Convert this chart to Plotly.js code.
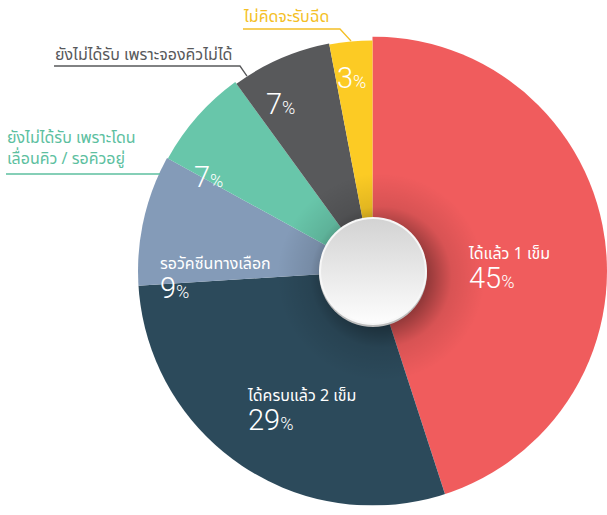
<!DOCTYPE html>
<html>
<head>
<meta charset="utf-8">
<script src="https://cdn.plot.ly/plotly-3.0.1.min.js"></script>
<style>html,body{margin:0;padding:0;background:#fff;overflow:hidden}#chart{width:607px;height:515px}</style>
</head>
<body>
<div id="chart"></div>
<script>
// ---- data ----
const categories = ['ได้แล้ว 1 เข็ม', 'ได้ครบแล้ว 2 เข็ม', 'รอวัคซีนทางเลือก', 'ยังไม่ได้รับ เพราะโดน<br>เลื่อนคิว / รอคิวอยู่', 'ยังไม่ได้รับ เพราะจองคิวไม่ได้', 'ไม่คิดจะรับฉีด'];
const values = [45, 29, 9, 7, 7, 3];

// ---- style ----
const sliceColors = ['#F05C5D', '#2C4A5B', '#849BB8', '#68C6AA', '#58595B', '#FCCB24'];
const nameColors = ['#FFFFFF', '#FFFFFF', '#FFFFFF', '#5DBF9F', '#58595B', '#F4BF26'];
const outerRadius = [244, 246, 236, 234, 232, 231];
const W = 607, H = 515;
const CX = 373, CY = 271, R = 235;
// label placement (px). inside: name + pct stacked; outside: separate
const insideAnchor = {0: [467, 268], 1: [246, 410], 2: [159, 278]};
const nameAnchor = {3: [6, 148], 4: [54, 54], 5: [242, 16]};
const pctAnchor = {3: [193, 177], 4: [265, 104], 5: [336, 78]};
const THAI = 'Noto Sans Thai UI, Noto Sans Thai, Sarabun, Kanit, Noto Sans, DejaVu Sans, sans-serif';
const NUM = 'Roboto, Lato, Open Sans, sans-serif';

const total = values.reduce((a, b) => a + b, 0);
let cum = 0;
const theta = [], width = [];
values.forEach(v => {
  const w = v / total * 360;
  theta.push(cum + w / 2);
  width.push(w);
  cum += w;
});

const trace = {
  type: 'barpolar',
  r: outerRadius,
  theta: theta,
  width: width,
  marker: {color: sliceColors, line: {width: 0}},
  hoverinfo: 'skip',
  showlegend: false
};

const px = (x, y) => ({x: x / W, y: 1 - y / H});
const pctText = v => `<span style="font-family:${NUM};font-weight:300;font-size:29px">${v}</span><span style="font-family:${NUM};font-weight:300;font-size:18px">%</span>`;

const annotations = [];
values.forEach((v, i) => {
  if (insideAnchor[i]) {
    const a = px(insideAnchor[i][0], insideAnchor[i][1]);
    annotations.push({
      xref: 'paper', yref: 'paper', x: a.x, y: a.y, xanchor: 'left', yanchor: 'middle',
      showarrow: false, borderpad: 0, align: 'left',
      text: `<span style="font-size:16px">${categories[i]}</span><br>` + pctText(v),
      font: {family: THAI, size: 22, color: '#FFFFFF'}
    });
  } else {
    const pa = px(pctAnchor[i][0], pctAnchor[i][1]);
    annotations.push({
      xref: 'paper', yref: 'paper', x: pa.x, y: pa.y, xanchor: 'left', yanchor: 'middle',
      showarrow: false, borderpad: 0,
      text: pctText(v),
      font: {family: NUM, size: 29, color: '#FFFFFF'}
    });
    const na = px(nameAnchor[i][0], nameAnchor[i][1]);
    annotations.push({
      xref: 'paper', yref: 'paper', x: na.x, y: na.y, xanchor: 'left', yanchor: 'middle',
      showarrow: false, borderpad: 0, align: 'left',
      text: categories[i],
      font: {family: THAI, size: 16, color: nameColors[i]}
    });
  }
});

function pathPx(pts) {
  return pts.map((p, k) => (k ? 'L' : 'M') + (p[0] / W).toFixed(4) + ',' + (1 - p[1] / H).toFixed(4)).join(' ');
}
const shapes = [
  {type: 'path', xref: 'paper', yref: 'paper', path: pathPx([[243, 29], [340, 29], [351, 41]]), line: {color: '#F4BF26', width: 1.3}},
  {type: 'path', xref: 'paper', yref: 'paper', path: pathPx([[54, 66], [240, 66], [247, 76]]), line: {color: '#58595B', width: 1.3}},
  {type: 'path', xref: 'paper', yref: 'paper', path: pathPx([[6, 174], [160, 174]]), line: {color: '#5DBF9F', width: 1.3}}
];

const svg = `<svg xmlns="http://www.w3.org/2000/svg" width="240" height="240" viewBox="0 0 240 240">
<defs>
<radialGradient id="sh" cx="128" cy="126" r="104" gradientUnits="userSpaceOnUse">
<stop offset="0.45" stop-color="#000" stop-opacity="0.38"/>
<stop offset="0.68" stop-color="#000" stop-opacity="0.1"/>
<stop offset="1" stop-color="#000" stop-opacity="0"/>
</radialGradient>
<linearGradient id="g" x1="0" y1="0" x2="0" y2="1">
<stop offset="0" stop-color="#d3d3d3"/>
<stop offset="1" stop-color="#fdfdfd"/>
</linearGradient>
</defs>
<circle cx="128" cy="126" r="104" fill="url(#sh)"/>
<circle cx="120" cy="122" r="54" fill="#bdbdbd"/>
<circle cx="120" cy="120" r="54" fill="#f7f7f7"/>
<circle cx="120" cy="120" r="52" fill="url(#g)"/>
</svg>`;
const img = 'data:image/svg+xml;base64,' + btoa(svg);

const layout = {
  width: W, height: H,
  margin: {l: 0, r: 0, t: 0, b: 0},
  paper_bgcolor: '#FFFFFF',
  showlegend: false,
  polar: {
    domain: {x: [(CX - R) / W, (CX + R) / W], y: [(H - CY - R) / H, (H - CY + R) / H]},
    bgcolor: 'rgba(0,0,0,0)',
    angularaxis: {direction: 'clockwise', rotation: 90, visible: false, showgrid: false, showline: false, ticks: ''},
    radialaxis: {range: [0, R], visible: false, showgrid: false, showline: false}
  },
  annotations: annotations,
  shapes: shapes,
  images: [{
    source: img, xref: 'paper', yref: 'paper',
    x: (CX - 120) / W, y: 1 - (CY - 120) / H, sizex: 240 / W, sizey: 240 / H,
    xanchor: 'left', yanchor: 'top', sizing: 'stretch', layer: 'above'
  }]
};

Plotly.newPlot('chart', [trace], layout, {displayModeBar: false, staticPlot: true});
</script>
</body>
</html>
